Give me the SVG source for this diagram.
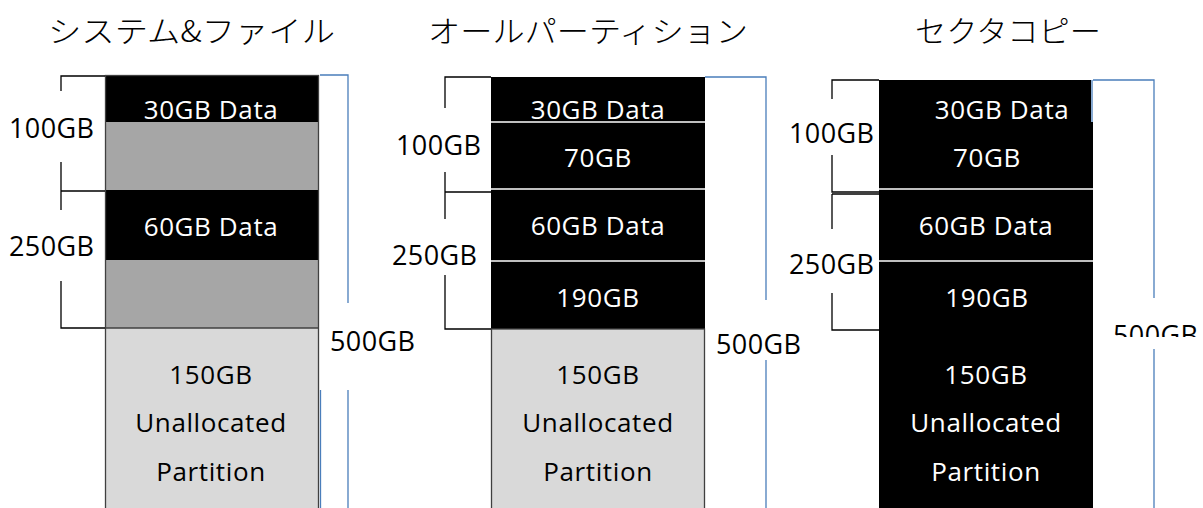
<svg xmlns="http://www.w3.org/2000/svg" width="1203" height="508" viewBox="0 0 1203 508">
<style>
.title{font-family:"Noto Sans CJK JP",sans-serif;font-size:30px;font-weight:300;fill:#000}
.t{font-family:"Open Sans","Liberation Sans",sans-serif;font-size:26px;letter-spacing:0.6px;text-anchor:middle}
.w{fill:#fff}
.k{fill:#000}
.lab{font-family:"Open Sans","Liberation Sans",sans-serif;font-size:27px;letter-spacing:0.4px;fill:#000}
.br{fill:none;stroke:#000;stroke-width:1.3}
.bl{fill:none;stroke:#4a7ebb;stroke-width:1.3}
.wl{stroke:#fff;stroke-width:1.5}
</style>
<defs>
<clipPath id="clip3"><rect x="1100" y="300" width="110" height="37"/></clipPath>
</defs>
<rect width="1203" height="508" fill="#fff"/>

<g id="titles">
<text class="title" x="48" y="42" textLength="287" lengthAdjust="spacingAndGlyphs">システム&amp;ファイル</text>
<text class="title" x="428" y="42" textLength="320" lengthAdjust="spacingAndGlyphs">オールパーティション</text>
<text class="title" x="915" y="42" textLength="186" lengthAdjust="spacingAndGlyphs">セクタコピー</text>
</g>

<g id="disk1">
<rect x="105" y="75" width="214" height="47" fill="#000"/>
<rect x="105" y="122" width="214" height="68" fill="#a6a6a6"/>
<rect x="105" y="190" width="214" height="70" fill="#000"/>
<rect x="105" y="260" width="214" height="68" fill="#a6a6a6"/>
<rect x="105" y="328" width="214" height="185" fill="#d9d9d9"/>
<rect x="105.5" y="75.5" width="213" height="440" fill="none" stroke="#404040" stroke-width="1.3"/>
<line x1="105" y1="328" x2="319" y2="328" stroke="#404040" stroke-width="1.3"/>
<text class="t w" x="211" y="119">30GB Data</text>
<text class="t w" x="211" y="236">60GB Data</text>
<text class="t k" x="211" y="384">150GB</text>
<text class="t k" x="211" y="432">Unallocated</text>
<text class="t k" x="211" y="481">Partition</text>
</g>

<g id="disk2">
<rect x="491" y="77" width="214" height="252" fill="#000"/>
<rect x="491" y="329" width="214" height="185" fill="#d9d9d9"/>
<rect x="491.5" y="329" width="213" height="185" fill="none" stroke="#404040" stroke-width="1.3"/>
<line class="wl" x1="491" y1="122" x2="705" y2="122"/>
<line class="wl" x1="491" y1="189" x2="705" y2="189"/>
<line class="wl" x1="491" y1="261" x2="705" y2="261"/>
<text class="t w" x="598" y="119">30GB Data</text>
<text class="t w" x="598" y="167">70GB</text>
<text class="t w" x="598" y="235">60GB Data</text>
<text class="t w" x="598" y="307">190GB</text>
<text class="t k" x="598" y="384">150GB</text>
<text class="t k" x="598" y="432">Unallocated</text>
<text class="t k" x="598" y="481">Partition</text>
</g>

<g id="disk3">
<rect x="879" y="80" width="212" height="43" fill="#000"/>
<rect x="879" y="122" width="214" height="390" fill="#000"/>
<line class="wl" x1="879" y1="189" x2="1093" y2="189"/>
<line class="wl" x1="879" y1="261" x2="1093" y2="261"/>
<text class="t w" x="1002" y="119">30GB Data</text>
<text class="t w" x="987" y="167">70GB</text>
<text class="t w" x="986" y="235">60GB Data</text>
<text class="t w" x="987" y="307">190GB</text>
<text class="t w" x="986" y="384">150GB</text>
<text class="t w" x="986" y="432">Unallocated</text>
<text class="t w" x="986" y="481">Partition</text>
</g>

<g id="labels">
<text class="lab" x="9" y="138">100GB</text>
<text class="lab" x="9" y="256">250GB</text>
<text class="lab" x="330" y="351">500GB</text>
<text class="lab" x="396" y="155">100GB</text>
<text class="lab" x="392" y="265">250GB</text>
<text class="lab" x="716" y="354">500GB</text>
<text class="lab" x="789" y="143">100GB</text>
<text class="lab" x="789" y="274">250GB</text>
<text class="lab" x="1113" y="345" clip-path="url(#clip3)">500GB</text>
</g>

<g id="connectors">
<path class="br" d="M105 76 H61 V91 M61 162 V191 H105 M61 191 V210 M61 281 V328 H105"/>
<path class="bl" d="M320 75 H348 V303 M348 390 V508 M320.5 390 V508"/>
<path class="br" d="M491 77 H445 V108 M445 172 V192 H491 M445 192 V219 M445 275 V329 H491"/>
<path class="bl" d="M705 77 H766 V300 M766 360 V508"/>
<path class="br" d="M879 80 H832 V99 M832 155 V192 H879 M832 194 H879 M832 194 V229 M832 293 V330 H879"/>
<path class="bl" d="M1093 80 H1154 V298 M1154 349 V508 M1092 80 V122"/>
</g>
</svg>
